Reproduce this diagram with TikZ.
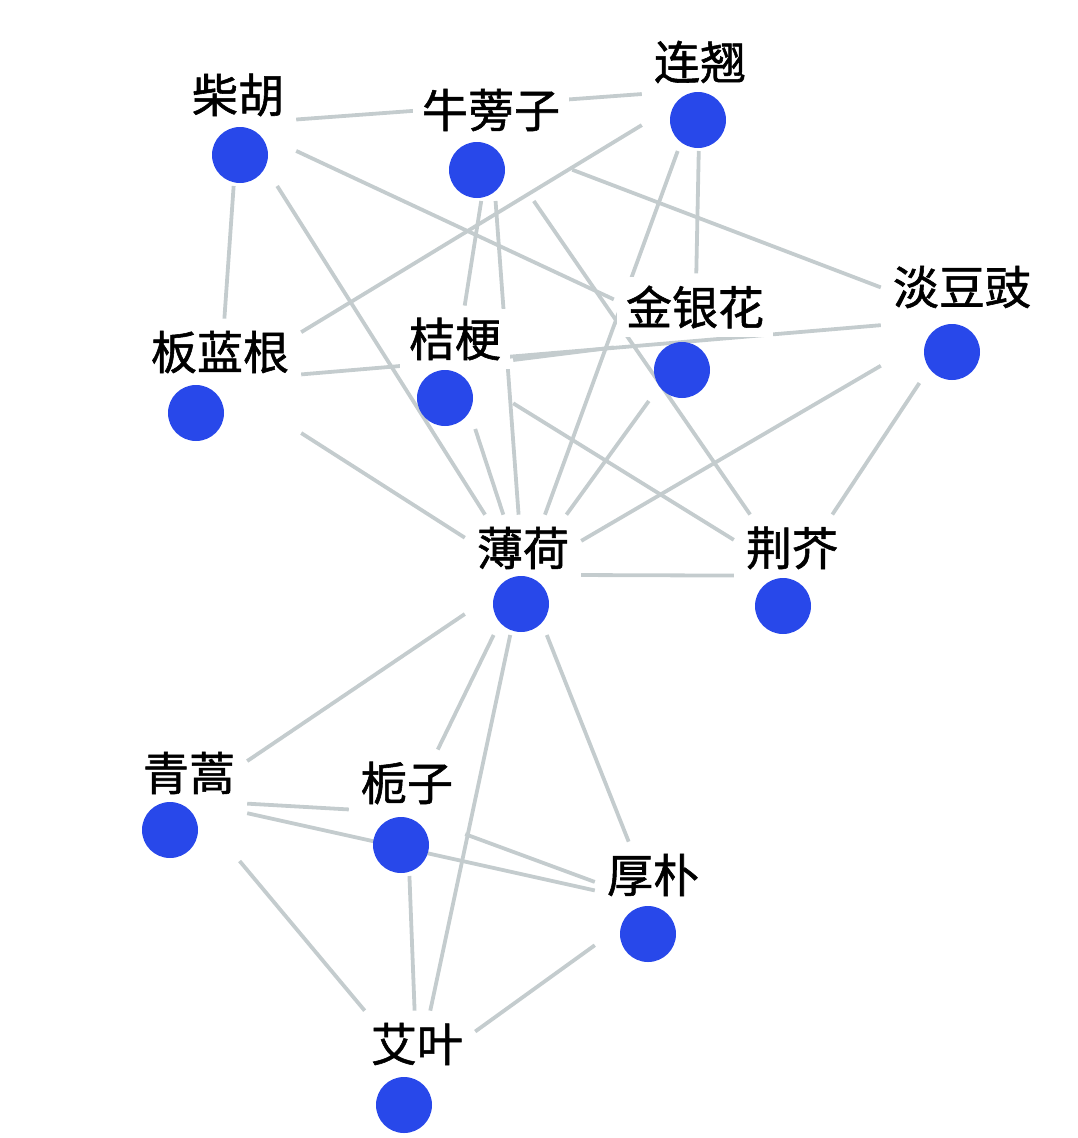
\documentclass[tikz,border=0pt]{standalone}
\usepackage{fontspec}
\newfontfamily\cjk[FakeBold=1.2]{Noto Sans CJK SC}
\usetikzlibrary{fit}
\pgfdeclarelayer{edgelayer}
\pgfsetlayers{edgelayer,main}
\definecolor{dotblue}{RGB}{40,72,234}
\definecolor{edgegray}{RGB}{196,204,206}
\tikzset{
  herblabel/.style={fill=white, inner sep=9pt, font=\cjk\fontsize{46}{50}\selectfont},
  herbdot/.style={circle, fill=dotblue, minimum size=56pt, inner sep=0pt, outer sep=0pt},
  herbgroup/.style={inner sep=3pt, outer sep=0pt},
  conn/.style={draw=edgegray, line width=3.8pt}
}
\newcommand\addherb[6]{%
  \node[herblabel] (#1L) at (#3,#4) {#2};
  \node[herbdot] (#1D) at (#5,#6) {};
  \node[herbgroup, fit=(#1L)(#1D)] (#1) {};
}
\begin{document}
\begin{tikzpicture}[x=1pt,y=-1pt]
\useasboundingbox (0,0) rectangle (1078,1138);
\addherb{cha}{柴胡}{238}{95}{240}{155}
\addherb{niu}{牛蒡子}{491}{110}{477}{170}
\addherb{lian}{连翘}{700}{62}{698}{120}
\addherb{ban}{板蓝根}{220}{352}{196}{413}
\addherb{jie}{桔梗}{455}{339}{445}{398}
\addherb{jin}{金银花}{695}{307}{682}{370}
\addherb{dan}{淡豆豉}{962}{287}{952}{352}
\addherb{bo}{薄荷}{523}{548}{521}{604}
\addherb{jing}{荆芥}{792}{548}{783}{606}
\addherb{qing}{青蒿}{189}{773}{170}{830}
\addherb{zhi}{栀子}{407}{783}{401}{845}
\addherb{hou}{厚朴}{653}{875}{648}{934}
\addherb{ai}{艾叶}{417}{1044}{404}{1105}
\begin{pgfonlayer}{edgelayer}
\foreach \a/\b in {cha/lian, cha/ban, cha/jin, cha/bo,
  lian/ban, lian/bo, lian/jin,
  niu/dan, niu/jie, niu/bo, niu/jing,
  ban/dan, ban/bo,
  jie/jin, jie/jing, jie/bo,
  jin/bo, dan/bo, dan/jing,
  bo/jing, bo/qing, bo/zhi, bo/ai, bo/hou,
  qing/zhi, qing/hou, qing/ai,
  zhi/hou, zhi/ai, hou/ai}
  \draw[conn] (\a) -- (\b);
\end{pgfonlayer}
\end{tikzpicture}
\end{document}
